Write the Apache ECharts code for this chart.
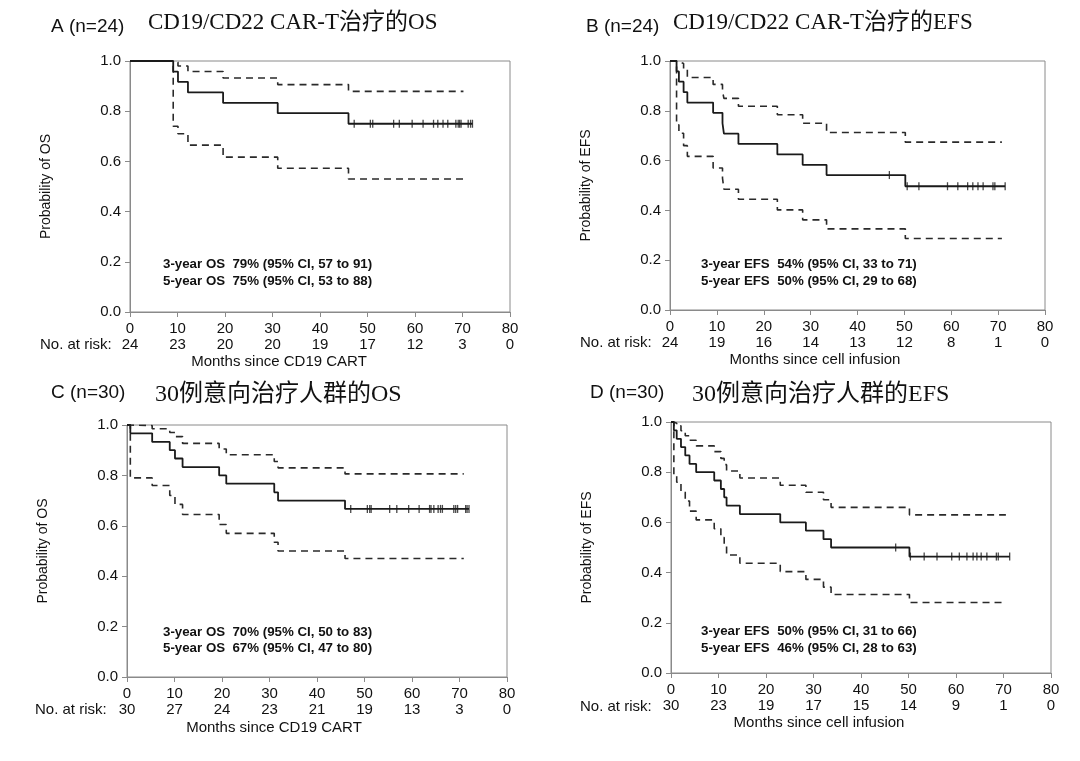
<!DOCTYPE html>
<html><head><meta charset="utf-8">
<script src="https://cdn.jsdelivr.net/npm/echarts@6/dist/echarts.min.js"></script>
<style>html,body{margin:0;padding:0;background:#fff}#c{width:1080px;height:761px}</style>
</head><body><div id="c"></div>
<script>
// ---------- shared tick values ----------
const xTicks = [0, 10, 20, 30, 40, 50, 60, 70, 80];

// ---------- Panel A : CD19/CD22 CAR-T OS (n=24) ----------
const aTime  = [0, 9.1, 10.1, 12.2, 19.6, 31.1, 46.0];
const aSurv  = [1, 0.958, 0.917, 0.875, 0.833, 0.792, 0.750];
const aLow   = [1, 0.740, 0.710, 0.665, 0.617, 0.573, 0.530];
const aHigh  = [1, 0.995, 0.980, 0.958, 0.932, 0.906, 0.879];
const aCens  = [47.2, 50.6, 51.1, 55.5, 56.7, 59.4, 61.7, 63.9, 64.8, 65.9, 66.9, 68.6, 69.1, 69.4, 69.7, 71.2, 71.7, 72.1];
const aEnd = 72.1, aCiEnd = 70.2;
const aRisk  = [24, 23, 20, 20, 19, 17, 12, 3, 0];
const aNotes = ['3-year OS  79% (95% CI, 57 to 91)', '5-year OS  75% (95% CI, 53 to 88)'];

// ---------- Panel B : CD19/CD22 CAR-T EFS (n=24) ----------
const bTime  = [0, 1.4, 1.9, 2.9, 3.7, 9.2, 11.2, 11.5, 14.6, 22.9, 28.3, 33.4, 50.2];
const bSurv  = [1, 0.958, 0.917, 0.875, 0.833, 0.792, 0.750, 0.708, 0.667, 0.625, 0.583, 0.542, 0.497];
const bLow   = [1, 0.744, 0.710, 0.660, 0.617, 0.570, 0.530, 0.485, 0.445, 0.402, 0.362, 0.326, 0.287];
const bHigh  = [1, 0.997, 0.990, 0.970, 0.934, 0.906, 0.880, 0.850, 0.818, 0.784, 0.750, 0.713, 0.674];
const bCens  = [46.8, 50.6, 53.1, 59.2, 61.4, 63.5, 64.6, 65.7, 66.8, 68.9, 69.3, 71.5];
const bEnd = 71.5, bCiEnd = 70.8;
const bRisk  = [24, 19, 16, 14, 13, 12, 8, 1, 0];
const bNotes = ['3-year EFS  54% (95% CI, 33 to 71)', '5-year EFS  50% (95% CI, 29 to 68)'];

// ---------- Panel C : ITT OS (n=30) ----------
const cTime  = [0, 0.7, 5.3, 9.0, 10.1, 11.7, 19.4, 20.9, 31.0, 31.8, 45.9];
const cSurv  = [1, 0.967, 0.933, 0.900, 0.867, 0.833, 0.800, 0.767, 0.733, 0.700, 0.667];
const cLow   = [1, 0.790, 0.760, 0.720, 0.685, 0.645, 0.605, 0.570, 0.535, 0.500, 0.470];
const cHigh  = [1, 0.998, 0.985, 0.970, 0.954, 0.927, 0.905, 0.882, 0.855, 0.830, 0.806];
const cCens  = [47.1, 50.6, 51.1, 51.4, 55.3, 56.8, 59.3, 61.5, 63.7, 64.0, 64.6, 65.5, 66.0, 66.4, 68.8, 69.2, 69.6, 71.3, 71.6, 72.0];
const cEnd = 72.0, cCiEnd = 70.9;
const cRisk  = [30, 27, 24, 23, 21, 19, 13, 3, 0];
const cNotes = ['3-year OS  70% (95% CI, 50 to 83)', '5-year OS  67% (95% CI, 47 to 80)'];

// ---------- Panel D : ITT EFS (n=30) ----------
const dTime  = [0, 0.6, 1.2, 2.1, 3.0, 3.9, 5.3, 9.1, 10.5, 11.2, 11.7, 14.5, 23.0, 28.4, 32.1, 33.7, 50.2];
const dSurv  = [1, 0.967, 0.933, 0.900, 0.867, 0.833, 0.800, 0.767, 0.733, 0.700, 0.667, 0.633, 0.600, 0.567, 0.533, 0.500, 0.464];
const dLow   = [1, 0.790, 0.760, 0.720, 0.685, 0.645, 0.610, 0.575, 0.540, 0.505, 0.470, 0.437, 0.404, 0.373, 0.342, 0.313, 0.281];
const dHigh  = [1, 0.995, 0.985, 0.965, 0.945, 0.927, 0.905, 0.882, 0.855, 0.830, 0.805, 0.777, 0.748, 0.720, 0.690, 0.660, 0.630];
const dCens  = [47.3, 50.4, 53.3, 56.0, 59.1, 60.7, 62.3, 63.6, 64.4, 65.3, 66.5, 68.5, 68.9, 71.3];
const dEnd = 71.3, dCiEnd = 70.5;
const dRisk  = [30, 23, 19, 17, 15, 14, 9, 1, 0];
const dNotes = ['3-year EFS  50% (95% CI, 31 to 66)', '5-year EFS  46% (95% CI, 28 to 63)'];

// ---------- labels ----------
const letters = ['A (n=24)', 'B (n=24)', 'C (n=30)', 'D (n=30)'];
const titles  = ['CD19/CD22 CAR-T治疗的OS', 'CD19/CD22 CAR-T治疗的EFS', '30例意向治疗人群的OS', '30例意向治疗人群的EFS'];
const yNames  = ['Probability of OS', 'Probability of EFS', 'Probability of OS', 'Probability of EFS'];
const xNames  = ['Months since CD19 CART', 'Months since cell infusion', 'Months since CD19 CART', 'Months since cell infusion'];
const riskLabel = 'No. at risk:';

// ---------- layout (pixels) ----------
const grids = [
  {left: 130, top: 61, width: 380, height: 251},
  {left: 670, top: 61, width: 375, height: 249},
  {left: 127, top: 425, width: 380, height: 252},
  {left: 671, top: 422, width: 380, height: 251}
];
const letterPos = [[51, 27], [586, 27], [51, 393], [590, 393]];
const titlePos  = [[148, 23], [673, 23], [155, 395], [692, 395]];
const titleSize = [23, 23, 24, 24];
const notePos   = [[163, 264, 281], [701, 264, 281], [163, 632, 648], [701, 631, 648]];
const riskPos   = [[40, 345], [580, 343], [35, 710], [580, 707]];
const xNamePos  = [[279, 362], [815, 360], [274, 728], [819, 723]];

const panels = [
  {t: aTime, s: aSurv, lo: aLow, hi: aHigh, cens: aCens, end: aEnd, ciEnd: aCiEnd, risk: aRisk, notes: aNotes},
  {t: bTime, s: bSurv, lo: bLow, hi: bHigh, cens: bCens, end: bEnd, ciEnd: bCiEnd, risk: bRisk, notes: bNotes},
  {t: cTime, s: cSurv, lo: cLow, hi: cHigh, cens: cCens, end: cEnd, ciEnd: cCiEnd, risk: cRisk, notes: cNotes},
  {t: dTime, s: dSurv, lo: dLow, hi: dHigh, cens: dCens, end: dEnd, ciEnd: dCiEnd, risk: dRisk, notes: dNotes}
];

const SANS = 'Liberation Sans, Arial, sans-serif';
const SERIF = 'Liberation Serif, Noto Sans CJK SC, serif';
const TXT = '#111111';
const AX = '#8a8a8a';

function stepValue(t, times, vals) {
  let v = vals[0];
  for (let i = 0; i < times.length; i++) if (times[i] <= t) v = vals[i];
  return v;
}
function stepData(times, vals, end) {
  const d = times.map((t, i) => [t, vals[i]]);
  d.push([end, vals[vals.length - 1]]);
  return d;
}

const option = {
  backgroundColor: '#ffffff',
  animation: false,
  grid: grids.map(g => Object.assign({show: true, borderColor: AX, borderWidth: 1, backgroundColor: 'transparent'}, g)),
  xAxis: [],
  yAxis: [],
  series: [],
  graphic: []
};

panels.forEach((p, k) => {
  option.xAxis.push({
    type: 'value', gridIndex: k, min: 0, max: 80, interval: 10,
    axisLine: {show: true, onZero: false, lineStyle: {color: AX, width: 1}},
    axisTick: {show: true, length: 5, lineStyle: {color: AX}},
    splitLine: {show: false},
    axisLabel: {fontFamily: SANS, fontSize: 15, color: TXT, margin: 9}
  });
  option.xAxis.push({
    type: 'value', gridIndex: k, min: 0, max: 80, interval: 10, position: 'bottom', offset: 16,
    axisLine: {show: false}, axisTick: {show: false}, splitLine: {show: false},
    axisLabel: {fontFamily: SANS, fontSize: 15, color: TXT, margin: 9,
      formatter: v => String(p.risk[Math.round(v / 10)])}
  });
  option.yAxis.push({
    type: 'value', gridIndex: k, min: 0, max: 1, interval: 0.2,
    name: yNames[k], nameLocation: 'middle', nameGap: 77, nameRotate: 90,
    nameTextStyle: {fontFamily: SANS, fontSize: 14, color: TXT},
    axisLine: {show: true, lineStyle: {color: AX, width: 1}},
    axisTick: {show: true, length: 5, lineStyle: {color: AX}},
    splitLine: {show: false},
    axisLabel: {fontFamily: SANS, fontSize: 15, color: TXT, margin: 9, formatter: v => v.toFixed(1)}
  });
  const xi = k * 2;
  option.series.push({
    type: 'line', xAxisIndex: xi, yAxisIndex: k, step: 'end', symbol: 'none',
    lineStyle: {color: '#1a1a1a', width: 1.8}, data: stepData(p.t, p.s, p.end), z: 5
  });
  option.series.push({
    type: 'line', xAxisIndex: xi, yAxisIndex: k, step: 'end', symbol: 'none',
    lineStyle: {color: '#2a2a2a', width: 1.6, type: [7, 5]}, data: stepData(p.t, p.lo, p.ciEnd), z: 4
  });
  option.series.push({
    type: 'line', xAxisIndex: xi, yAxisIndex: k, step: 'end', symbol: 'none',
    lineStyle: {color: '#2a2a2a', width: 1.6, type: [7, 5]}, data: stepData(p.t, p.hi, p.ciEnd), z: 4
  });
  option.series.push({
    type: 'scatter', xAxisIndex: xi, yAxisIndex: k, symbol: 'rect', symbolSize: [1.3, 8],
    itemStyle: {color: '#1a1a1a'}, data: p.cens.map(c => [c, stepValue(c, p.t, p.s)]), z: 6
  });

  option.graphic.push({type: 'text', x: letterPos[k][0], y: letterPos[k][1],
    style: {text: letters[k], font: '19px ' + SANS, fill: TXT, align: 'left', verticalAlign: 'middle'}});
  option.graphic.push({type: 'text', x: titlePos[k][0], y: titlePos[k][1],
    style: {text: titles[k], font: titleSize[k] + 'px ' + SERIF, fill: TXT, align: 'left', verticalAlign: 'middle'}});
  option.graphic.push({type: 'text', x: notePos[k][0], y: notePos[k][1],
    style: {text: p.notes[0], font: 'bold 13.3px ' + SANS, fill: TXT, align: 'left', verticalAlign: 'middle'}});
  option.graphic.push({type: 'text', x: notePos[k][0], y: notePos[k][2],
    style: {text: p.notes[1], font: 'bold 13.3px ' + SANS, fill: TXT, align: 'left', verticalAlign: 'middle'}});
  option.graphic.push({type: 'text', x: riskPos[k][0], y: riskPos[k][1],
    style: {text: riskLabel, font: '15px ' + SANS, fill: TXT, align: 'left', verticalAlign: 'middle'}});
  option.graphic.push({type: 'text', x: xNamePos[k][0], y: xNamePos[k][1],
    style: {text: xNames[k], font: '15px ' + SANS, fill: TXT, align: 'center', verticalAlign: 'middle'}});
});

const chart = echarts.init(document.getElementById('c'), null, {renderer: 'canvas'});
chart.setOption(option);
</script>
</body></html>
